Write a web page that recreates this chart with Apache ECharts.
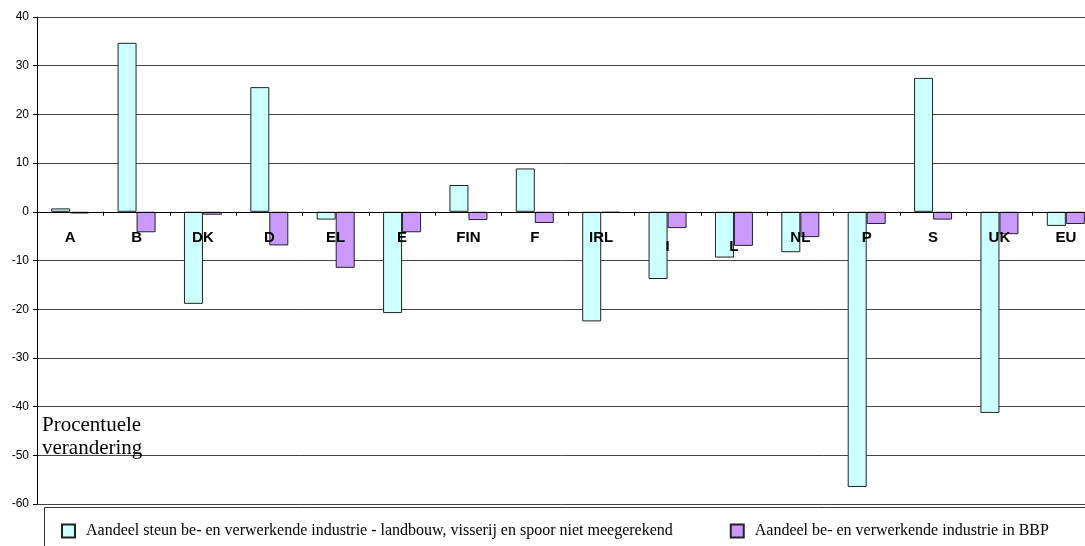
<!DOCTYPE html>
<html>
<head>
<meta charset="utf-8">
<script src="https://cdn.jsdelivr.net/npm/echarts@6/dist/echarts.min.js"></script>
<style>
html,body{margin:0;padding:0;background:#fff;}
#chart{width:1085px;height:546px;}
</style>
</head>
<body>
<div id="chart"></div>
<script>
var categories = ['A','B','DK','D','EL','E','FIN','F','IRL','I','L','NL','P','S','UK','EU'];
var steunValues = [0.7, 34.7, -18.9, 25.6, -1.6, -20.8, 5.5, 8.9, -22.5, -13.8, -9.4, -8.3, -56.5, 27.5, -41.3, -2.9];
var bbpValues = [-0.35, -4.2, -0.6, -6.9, -11.5, -4.2, -1.7, -2.3, -0.2, -3.35, -7.0, -5.2, -2.5, -1.6, -4.6, -2.5];
var seriesNames = ['Aandeel steun be- en verwerkende industrie - landbouw, visserij en spoor niet meegerekend', 'Aandeel be- en verwerkende industrie in BBP'];
var yTicks = { min: -60, max: 40, interval: 10 };
var shiftedLabels = ['I', 'L'];

var chart = echarts.init(document.getElementById('chart'));
var catData = categories.map(function (c) {
  if (shiftedLabels.indexOf(c) >= 0) {
    return { value: c, textStyle: { padding: [9, 0, 0, 0] } };
  }
  return c;
});
var option = {
  animation: false,
  backgroundColor: '#fff',
  title: {
    text: 'Procentuele\nverandering',
    left: 42, top: 414, padding: 0,
    textStyle: { fontFamily: '"Liberation Serif", "Times New Roman", serif', fontWeight: 'normal', fontSize: 21, lineHeight: 23, color: '#000' }
  },
  legend: {
    left: 61, top: 523, padding: 0,
    itemWidth: 13, itemHeight: 13, itemGap: 57,
    icon: 'rect',
    data: seriesNames,
    textStyle: { fontFamily: '"Liberation Serif", "Times New Roman", serif', fontSize: 16, color: '#000', padding: [0, 0, 0, 6] }
  },
  graphic: [{
    type: 'rect', silent: true, z: -1,
    shape: { x: 44.5, y: 507.5, width: 1100, height: 100 },
    style: { fill: 'none', stroke: '#333', lineWidth: 1 }
  }],
  grid: { left: 37, top: 17, width: 1062, height: 487, containLabel: false, outerBoundsMode: 'none' },
  xAxis: {
    type: 'category',
    z: 5,
    data: catData,
    axisLine: { onZero: true, lineStyle: { color: '#000', width: 1 } },
    axisTick: { show: true, length: 4, inside: false, lineStyle: { color: '#000' } },
    axisLabel: { interval: 0, margin: -274, hideOverlap: false, fontFamily: '"Liberation Sans", Arial, sans-serif', fontWeight: 'bold', fontSize: 15, color: '#000' },
    splitLine: { show: false }
  },
  yAxis: {
    type: 'value',
    min: yTicks.min, max: yTicks.max, interval: yTicks.interval,
    axisLine: { show: true, lineStyle: { color: '#000', width: 1 } },
    axisTick: { show: true, length: 4, lineStyle: { color: '#000' } },
    axisLabel: { margin: 8, fontFamily: '"Liberation Sans", Arial, sans-serif', fontSize: 12, color: '#000' },
    splitLine: { show: true, lineStyle: { color: '#444', width: 1 } }
  },
  series: [
    {
      name: seriesNames[0], type: 'bar', data: steunValues,
      barWidth: 19, barGap: '0%',
      itemStyle: { color: '#CCFFFF', borderColor: '#222', borderWidth: 1 }
    },
    {
      name: seriesNames[1], type: 'bar', data: bbpValues,
      barWidth: 19, barGap: '0%',
      itemStyle: { color: '#CC99FF', borderColor: '#222', borderWidth: 1 }
    }
  ]
};
chart.setOption(option);
</script>
</body>
</html>
